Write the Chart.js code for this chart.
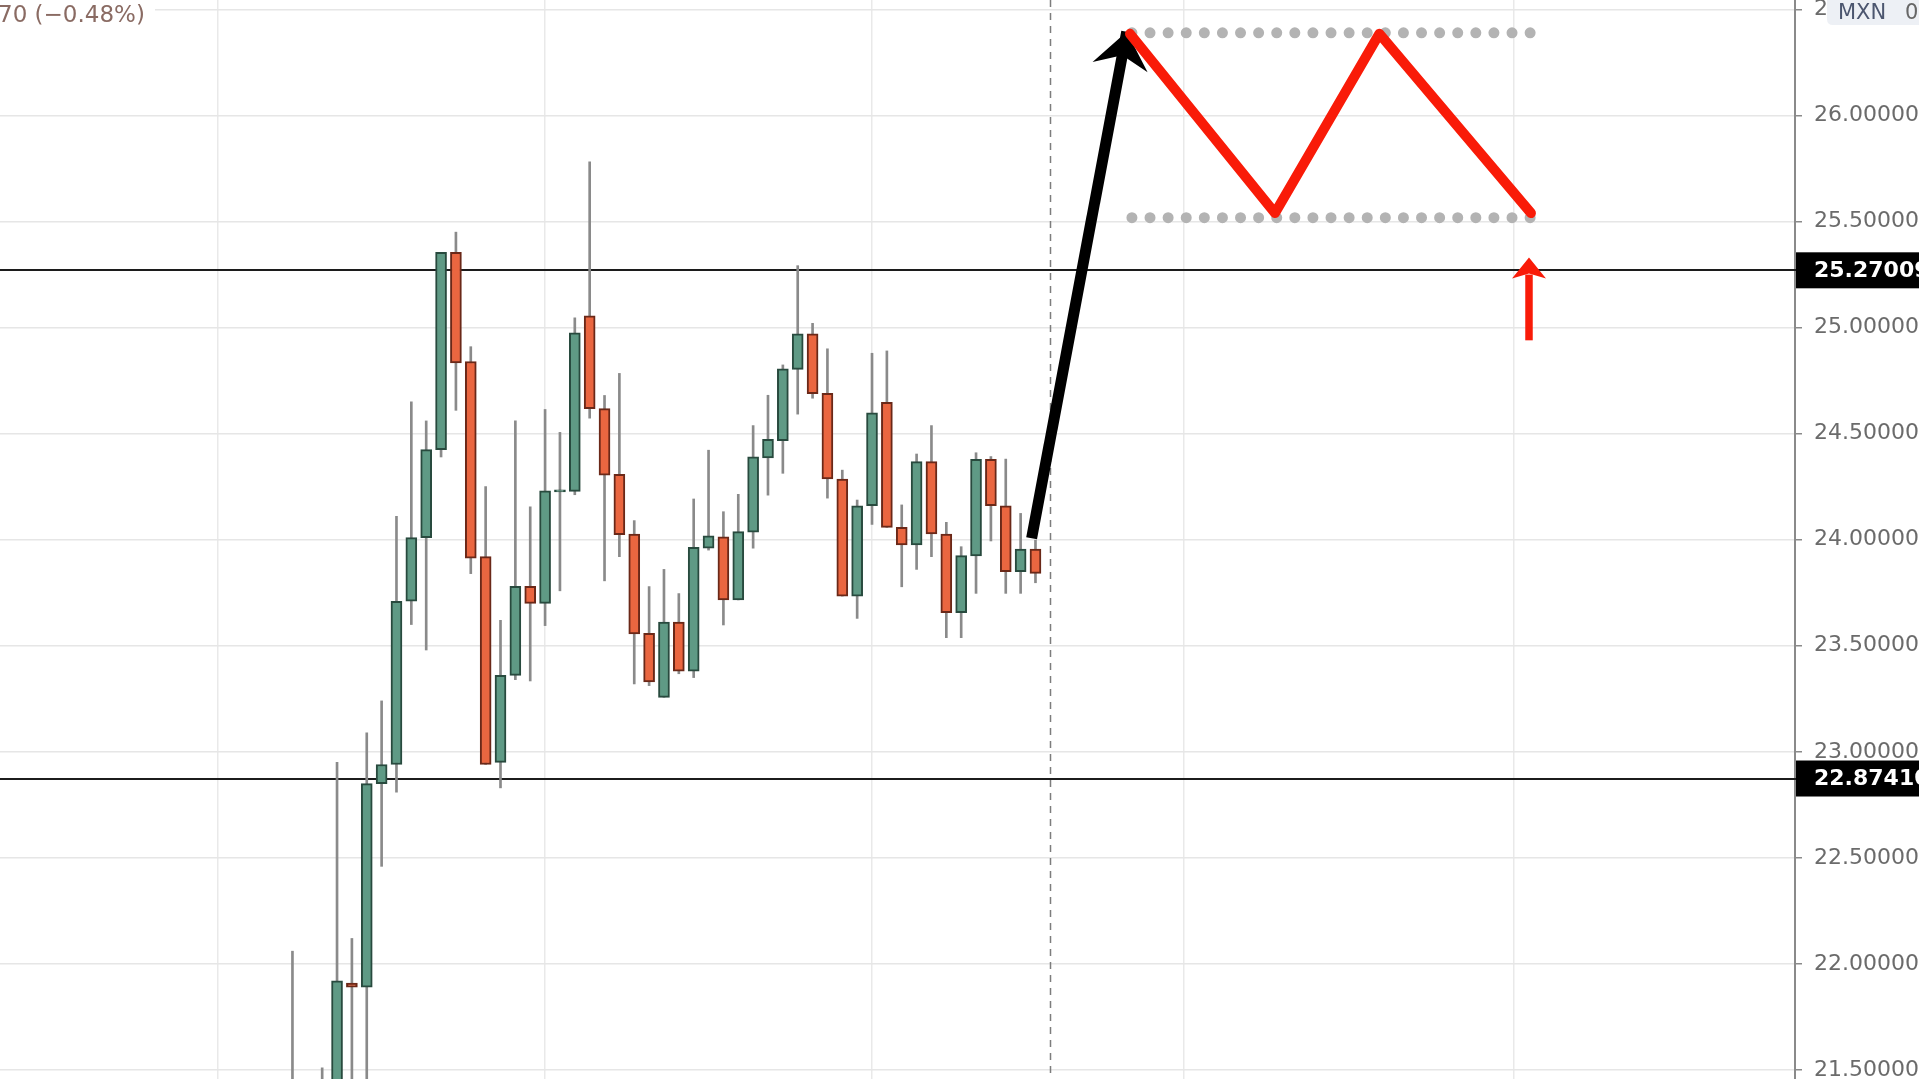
<!DOCTYPE html>
<html><head><meta charset="utf-8">
<script src="https://cdn.jsdelivr.net/npm/chart.js@4/dist/chart.umd.min.js"></script>
<style>html,body{margin:0;padding:0;background:#fff;overflow:hidden}#wrap{position:absolute;left:0;top:0;width:1919px;height:1079px}</style>
</head><body><div id="wrap"><canvas id="c"></canvas></div>
<script>
// ---- candle data (daily bars, index = bar number) ----
const opens  = [21.15,21.30,21.25,21.40,21.91,21.89,22.85,22.94,23.71,24.01,24.425,25.355,24.84,23.92,22.95,23.36,23.78,23.70,24.225,24.228,25.056,24.618,24.308,24.027,23.558,23.257,23.612,23.38,23.96,24.014,23.716,24.036,24.386,24.467,24.803,24.971,24.69,24.286,23.734,24.16,24.648,24.058,23.975,24.368,24.027,23.656,23.923,24.379,24.16,23.849,23.956];
const highs  = [22.06,21.42,21.51,22.95,22.12,23.09,23.24,24.11,24.65,24.56,25.355,25.45,24.91,24.25,23.62,24.56,24.155,24.614,24.506,25.046,25.782,24.68,24.784,24.09,23.779,23.86,23.746,24.192,24.422,24.132,24.214,24.538,24.681,24.824,25.292,25.02,24.9,24.328,24.187,24.879,24.89,24.164,24.404,24.538,24.082,23.967,24.41,24.392,24.38,24.124,23.998];
const lows   = [21.05,21.05,21.10,21.30,21.35,21.40,22.46,22.81,23.60,23.48,24.39,24.61,23.84,22.94,22.83,23.34,23.334,23.595,23.759,24.212,24.573,23.806,23.92,23.32,23.312,23.257,23.368,23.35,23.951,23.598,23.716,23.96,24.21,24.313,24.592,24.667,24.196,23.734,23.629,24.072,24.058,23.778,23.86,23.92,23.538,23.538,23.747,23.994,23.747,23.747,23.797];
const closes = [21.40,21.20,21.42,21.92,21.89,22.85,22.94,23.71,24.01,24.425,25.355,24.834,23.913,22.94,23.36,23.78,23.70,24.23,24.235,24.975,24.618,24.304,24.024,23.556,23.33,23.612,23.38,23.964,24.018,23.716,24.038,24.391,24.473,24.806,24.971,24.688,24.286,23.734,24.16,24.598,24.058,23.975,24.368,24.027,23.656,23.925,24.379,24.16,23.849,23.956,23.841];
const barIndex = opens.map((_, i) => i);

// ---- axis ----
const xRange = [-19.68, 101.11];
const yRange = [21.4574, 26.5445];
const yTicks = [21.5,22.0,22.5,23.0,23.5,24.0,24.5,25.0,25.5,26.0,26.5];
const xGridIdx = [-5, 17, 39, 60, 82.2];

// ---- drawings ----
const levels = [25.27009, 22.87410];
const crosshairIdx = 51;
const blackArrowX = [49.74, 56.14];
const blackArrowY = [24.007, 26.395];
const zigzagX = [56.36, 66.12, 73.14, 83.34];
const zigzagY = [26.385, 25.54, 26.385, 25.54];
const dotLineX = [56.49, 83.41];
const dotTopY = 26.39;
const dotBottomY = 25.518;
const redArrowX = [83.21, 83.21];
const redArrowY = [24.94, 25.25];
const redArrowTipY = 25.33;
const legendText = '70 (\u22120.48%)';

const UP = '#5f9a85', UP_B = '#284a3e', DN = '#ea6640', DN_B = '#6a2818';
const isUp = barIndex.map(i => closes[i] >= opens[i]);

const pts = (xs, ys) => xs.map((x, i) => ({x, y: ys[i]}));

function arrowHead(ctx, x1, y1, x2, y2, len, half, notch, color) {
  const a = Math.atan2(y2 - y1, x2 - x1);
  const ux = Math.cos(a), uy = Math.sin(a), px = -uy, py = ux;
  const bx = x2 - ux * len, by = y2 - uy * len;
  ctx.fillStyle = color;
  ctx.beginPath();
  ctx.moveTo(x2, y2);
  ctx.lineTo(bx + px * half, by + py * half);
  ctx.lineTo(x2 - ux * notch, y2 - uy * notch);
  ctx.lineTo(bx - px * half, by - py * half);
  ctx.closePath();
  ctx.fill();
}

const overlay = {
  id: 'overlay',
  beforeDatasetsDraw(chart) {
    const {ctx, chartArea: a, scales: {x, y}} = chart;
    ctx.save();
    const cx = Math.round(x.getPixelForValue(crosshairIdx)) + 0.5;
    ctx.strokeStyle = '#7d7d7d'; ctx.lineWidth = 1.5; ctx.setLineDash([7, 6]);
    ctx.beginPath(); ctx.moveTo(cx, a.top); ctx.lineTo(cx, a.bottom); ctx.stroke();
    ctx.setLineDash([]);
    ctx.strokeStyle = '#1c1c1c'; ctx.lineWidth = 2;
    levels.forEach(lv => {
      const py = Math.round(y.getPixelForValue(lv));
      ctx.beginPath(); ctx.moveTo(a.left, py); ctx.lineTo(chart.width, py); ctx.stroke();
    });
    ctx.restore();
  },
  afterDatasetDraw(chart, args) {
    const ds = chart.data.datasets[args.index];
    const {ctx, scales: {x, y}} = chart;
    ctx.save();
    if (ds.label === 'blackArrow') {
      arrowHead(ctx, x.getPixelForValue(blackArrowX[0]), y.getPixelForValue(blackArrowY[0]),
        x.getPixelForValue(blackArrowX[1]), y.getPixelForValue(blackArrowY[1]), 36, 28, 24, '#000');
    }
    if (ds.label === 'redArrow') {
      arrowHead(ctx, x.getPixelForValue(redArrowX[0]), y.getPixelForValue(redArrowY[0]),
        x.getPixelForValue(redArrowX[1]), y.getPixelForValue(redArrowTipY), 21, 17, 16, '#f91b08');
    }
    ctx.restore();
  },
  afterDraw(chart) {
    const {ctx, chartArea: a, scales: {y}} = chart;
    ctx.save();
    ctx.font = 'bold 22px "DejaVu Sans"';
    ctx.textBaseline = 'middle';
    levels.forEach(lv => {
      const py = y.getPixelForValue(lv);
      ctx.fillStyle = '#000';
      ctx.fillRect(a.right + 1, py - 18, chart.width - a.right, 36);
      ctx.fillStyle = '#fff';
      ctx.fillText(lv.toFixed(5), a.right + 19, py + 1);
    });
    // currency badge
    ctx.fillStyle = '#edf0f5';
    ctx.beginPath();
    ctx.moveTo(1827, 0); ctx.lineTo(1919, 0); ctx.lineTo(1919, 25); ctx.lineTo(1833, 25);
    ctx.quadraticCurveTo(1827, 25, 1827, 19); ctx.closePath(); ctx.fill();
    ctx.font = '21px "DejaVu Sans"';
    ctx.textBaseline = 'alphabetic';
    ctx.fillStyle = '#4c566f';
    ctx.fillText('MXN', 1838, 19);
    ctx.fillStyle = '#666';
    ctx.fillText('0', 1905, 19);
    // legend text
    ctx.fillStyle = '#fff';
    ctx.fillRect(0, 0, 155, 28);
    ctx.font = '23px "DejaVu Sans"';
    ctx.fillStyle = '#8a6b63';
    ctx.fillText(legendText, -2, 22);
    ctx.restore();
  }
};

new Chart(document.getElementById('c'), {
  type: 'bar',
  data: {
    datasets: [
      {label: 'wicks', type: 'bar', data: barIndex.map(i => ({x: i, y: [lows[i], highs[i]]})),
       backgroundColor: '#8a8a8a', borderWidth: 0, barThickness: 2, grouped: false, order: 10},
      {label: 'bodies', type: 'bar', data: barIndex.map(i => ({x: i, y: [opens[i], closes[i]]})),
       backgroundColor: barIndex.map(i => isUp[i] ? UP : DN),
       borderColor: barIndex.map(i => isUp[i] ? UP_B : DN_B),
       borderWidth: 2, borderSkipped: false, barThickness: 11, grouped: false, order: 9},
      {label: 'dotsTop', type: 'line', data: pts(dotLineX, [dotTopY, dotTopY]),
       borderColor: '#b3b3b3', borderWidth: 11, borderDash: [0, 18.1], borderCapStyle: 'round',
       pointRadius: 0, order: 6},
      {label: 'dotsBottom', type: 'line', data: pts(dotLineX, [dotBottomY, dotBottomY]),
       borderColor: '#b3b3b3', borderWidth: 11, borderDash: [0, 18.1], borderCapStyle: 'round',
       pointRadius: 0, order: 5},
      {label: 'blackArrow', type: 'line', data: pts(blackArrowX, blackArrowY),
       borderColor: '#000', borderWidth: 11, borderCapStyle: 'butt', pointRadius: 0, order: 4},
      {label: 'zigzag', type: 'line', data: pts(zigzagX, zigzagY),
       borderColor: '#f91b08', borderWidth: 10, borderCapStyle: 'round', borderJoinStyle: 'round',
       pointRadius: 0, tension: 0, order: 3},
      {label: 'redArrow', type: 'line', data: pts(redArrowX, redArrowY),
       borderColor: '#f91b08', borderWidth: 7.5, borderCapStyle: 'butt', pointRadius: 0, order: 2}
    ]
  },
  options: {
    responsive: true, maintainAspectRatio: false, animation: false, events: [],
    devicePixelRatio: 1,
    layout: {padding: 0, autoPadding: false},
    plugins: {legend: {display: false}, tooltip: {enabled: false}, title: {display: false}},
    scales: {
      x: {
        type: 'linear', min: xRange[0], max: xRange[1], offset: false,
        grid: {color: '#e9e9e9', lineWidth: 1.5, drawTicks: false, offset: false},
        border: {display: false},
        ticks: {display: false},
        afterBuildTicks: s => { s.ticks = xGridIdx.map(v => ({value: v})); },
        afterFit: s => { s.height = 0; s.paddingLeft = 0; s.paddingRight = 0; }
      },
      y: {
        type: 'linear', position: 'right', min: yRange[0], max: yRange[1],
        grid: {color: '#e6e6e6', lineWidth: 1.5, drawTicks: true, tickLength: 7, tickColor: '#8a8a8a', tickWidth: 1.5},
        border: {display: true, color: '#8a8a8a', width: 2},
        ticks: {color: '#6b6b6b', font: {family: 'DejaVu Sans', size: 22}, padding: 12,
                callback: v => Number(v).toFixed(5)},
        afterBuildTicks: s => { s.ticks = yTicks.map(v => ({value: v})); },
        afterFit: s => { s.width = 124; s.paddingTop = 0; s.paddingBottom = 0; }
      }
    }
  },
  plugins: [overlay]
});
</script></body></html>
